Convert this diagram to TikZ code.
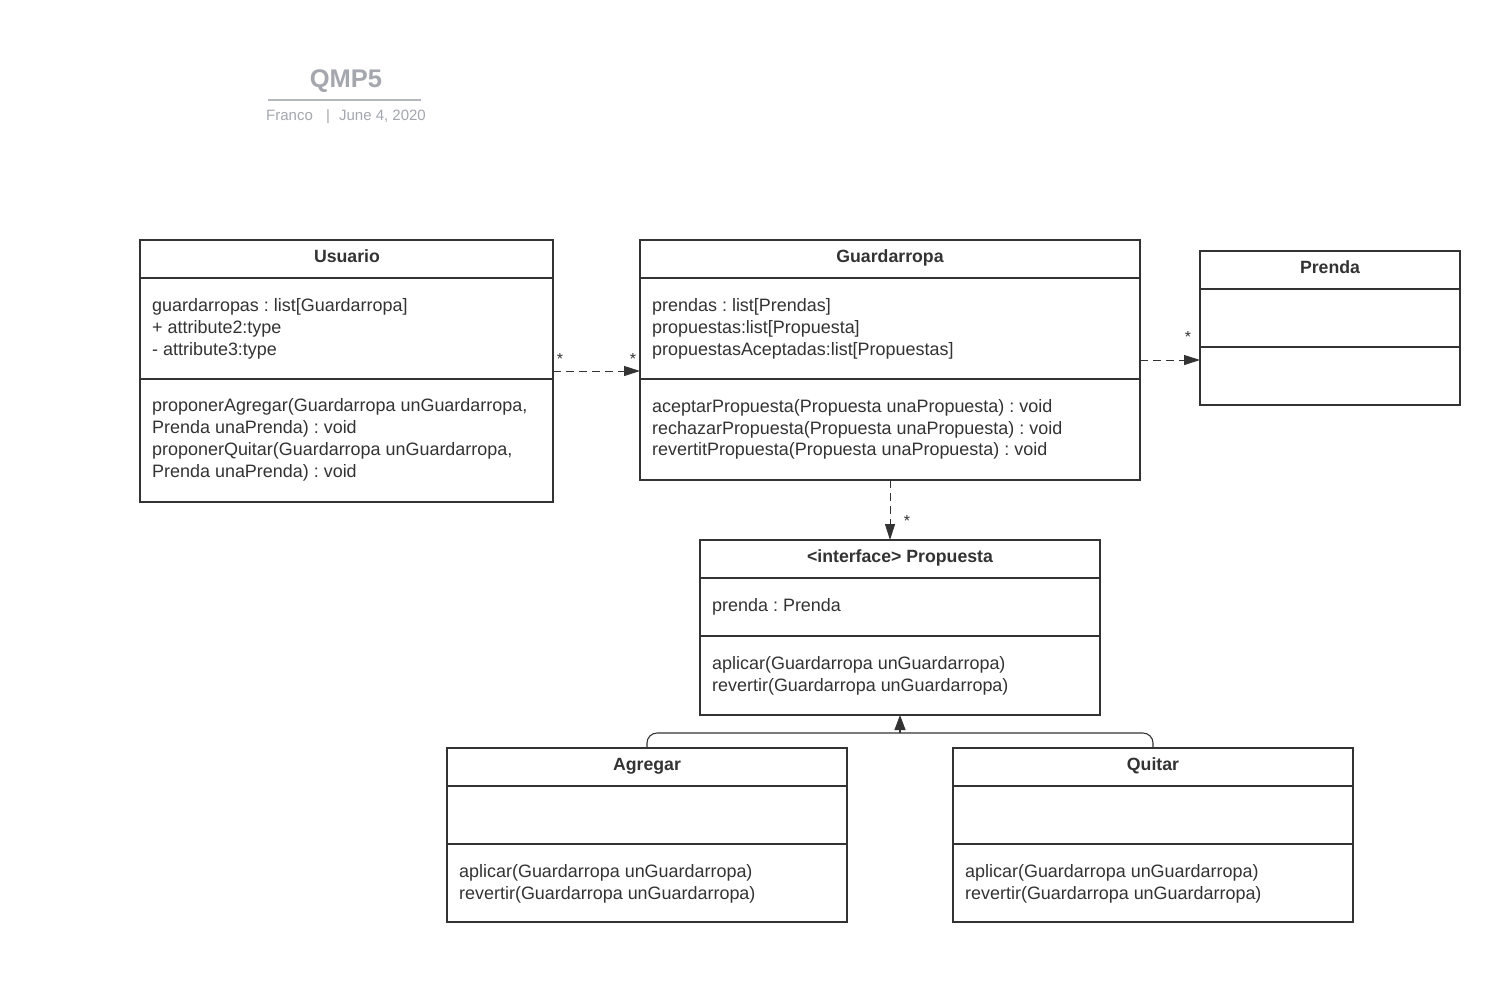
\documentclass[tikz,border=0pt]{standalone}
\usepackage{fontspec}
\setmainfont{Liberation Sans}
\usetikzlibrary{arrows.meta}
\frenchspacing
\definecolor{ink}{HTML}{333333}
\definecolor{titlegray}{HTML}{A4A7AD}
\definecolor{rulegray}{HTML}{B4B7BC}
\tikzset{
  box/.style={draw=ink, line width=2pt, inner sep=0pt, outer sep=0pt, anchor=north west, fill=white},
  divline/.style={draw=ink, line width=2pt},
  txt/.style={anchor=base west, inner sep=0pt, text=ink, font=\fontsize{17.95}{22}\selectfont},
  ttl/.style={anchor=base, inner sep=0pt, text=ink, font=\bfseries\fontsize{17.7}{22}\selectfont},
  star/.style={anchor=base, inner sep=0pt, text=ink, font=\fontsize{16}{20}\selectfont},
  dep/.style={draw=ink, line width=1pt, dash pattern=on 8pt off 5pt, -{Triangle[length=16pt,width=10pt]}},
  gen/.style={draw=ink, line width=1.1pt, rounded corners=10pt},
  genhead/.style={draw=ink, line width=1.1pt, -{Triangle[length=15pt,width=11pt]}},
}
\begin{document}
\begin{tikzpicture}[x=1pt,y=-1pt]
\path[fill=white] (0,0) rectangle (1509,989);
\useasboundingbox (0,0) rectangle (1509,989);

% title block
\node[anchor=base, inner sep=0pt, text=titlegray, font=\bfseries\fontsize{25.5}{30}\selectfont] (title) at (346,87) {QMP5};
\draw[rulegray, line width=2pt] (268,100) -- (421,100);
\node[anchor=base west, inner sep=0pt, text=titlegray, font=\fontsize{15}{18}\selectfont] (author) at (266,120) {Franco};
\node[anchor=base west, inner sep=0pt, text=titlegray, font=\fontsize{15}{18}\selectfont] (date) at (326,120) {|\hspace{9pt}June 4, 2020};

% Usuario
\node[box, minimum width=413pt, minimum height=262pt] (usuario) at (140,240) {};
\draw[divline] (140,278) -- (553,278);
\draw[divline] (140,379) -- (553,379);
\node[ttl] (usuarioT) at (347,262.5) {Usuario};
\node[txt] (u1) at (152,311) {guardarropas : list[Guardarropa]};
\node[txt] (u2) at (152,333) {+ attribute2:type};
\node[txt] (u3) at (152,355) {- attribute3:type};
\node[txt] (u4) at (152,411.5) {proponerAgregar(Guardarropa unGuardarropa,};
\node[txt] (u5) at (152,433.5) {Prenda unaPrenda) : void};
\node[txt] (u6) at (152,455) {proponerQuitar(Guardarropa unGuardarropa,};
\node[txt] (u7) at (152,477) {Prenda unaPrenda) : void};

% Guardarropa
\node[box, minimum width=500pt, minimum height=240pt] (guardarropa) at (640,240) {};
\draw[divline] (640,278) -- (1140,278);
\draw[divline] (640,379) -- (1140,379);
\node[ttl] (guardarropaT) at (890,262.5) {Guardarropa};
\node[txt] (g1) at (652,311) {prendas : list[Prendas]};
\node[txt] (g2) at (652,333) {propuestas:list[Propuesta]};
\node[txt] (g3) at (652,355) {propuestasAceptadas:list[Propuestas]};
\node[txt] (g4) at (652,412) {aceptarPropuesta(Propuesta unaPropuesta) : void};
\node[txt] (g5) at (652,434) {rechazarPropuesta(Propuesta unaPropuesta) : void};
\node[txt] (g6) at (652,455.5) {revertitPropuesta(Propuesta unaPropuesta) : void};

% Prenda
\node[box, minimum width=260pt, minimum height=154pt] (prenda) at (1200,251) {};
\draw[divline] (1200,289) -- (1460,289);
\draw[divline] (1200,347) -- (1460,347);
\node[ttl] (prendaT) at (1330,273.5) {Prenda};

% Propuesta
\node[box, minimum width=400pt, minimum height=175pt] (propuesta) at (700,540) {};
\draw[divline] (700,578) -- (1100,578);
\draw[divline] (700,636) -- (1100,636);
\node[ttl] (propuestaT) at (900,562.5) {<interface> Propuesta};
\node[txt] (p1) at (712,611) {prenda : Prenda};
\node[txt] (p2) at (712,669) {aplicar(Guardarropa unGuardarropa)};
\node[txt] (p3) at (712,691) {revertir(Guardarropa unGuardarropa)};

% Agregar
\node[box, minimum width=400pt, minimum height=174pt] (agregar) at (447,748) {};
\draw[divline] (447,786) -- (847,786);
\draw[divline] (447,844) -- (847,844);
\node[ttl] (agregarT) at (647,770.5) {Agregar};
\node[txt] (a1) at (459,877) {aplicar(Guardarropa unGuardarropa)};
\node[txt] (a2) at (459,899) {revertir(Guardarropa unGuardarropa)};

% Quitar
\node[box, minimum width=400pt, minimum height=174pt] (quitar) at (953,748) {};
\draw[divline] (953,786) -- (1353,786);
\draw[divline] (953,844) -- (1353,844);
\node[ttl] (quitarT) at (1153,770.5) {Quitar};
\node[txt] (q1) at (965,877) {aplicar(Guardarropa unGuardarropa)};
\node[txt] (q2) at (965,899) {revertir(Guardarropa unGuardarropa)};

% connectors
\draw[dep] (usuario.east) -- (usuario.east -| guardarropa.west);
\node[star] (s1) at (560,364) {*};
\node[star] (s2) at (633,364) {*};

\draw[dep] (guardarropa.east) -- (guardarropa.east -| prenda.west);
\node[star] (s3) at (1188,342) {*};

\draw[dep] (guardarropa.south) -- (guardarropa.south |- propuesta.north);
\node[star] (s4) at (907,526) {*};

\coordinate (genjoin) at (900,733);
\draw[gen] (agregar.north) -- (agregar.north |- genjoin) -- (quitar.north |- genjoin) -- (quitar.north);
\draw[genhead] (genjoin) -- (propuesta.south);
\end{tikzpicture}
\end{document}
